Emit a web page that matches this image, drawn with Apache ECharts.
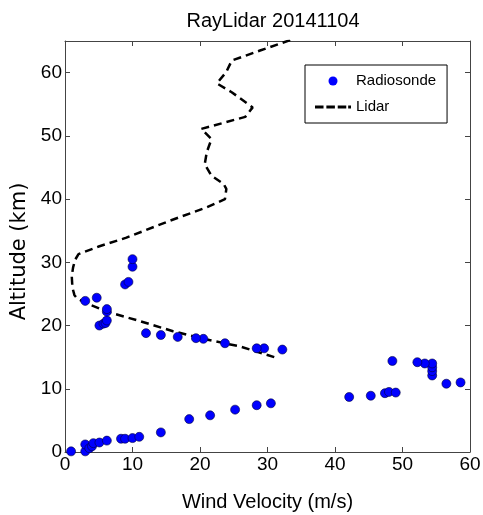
<!DOCTYPE html>
<html>
<head>
<meta charset="utf-8">
<script src="https://cdn.jsdelivr.net/npm/echarts@6/dist/echarts.min.js"></script>
<style>
html,body{margin:0;padding:0;background:#fff;}
#chart{width:483px;height:515px;}
</style>
</head>
<body>
<div id="chart"></div>
<script>
// Radiosonde: wind speed (m/s) and altitude (km)
var radiosondeSpeed = [0.9, 3.0, 3.0, 3.6, 4.0, 4.2, 5.1, 6.2, 8.3, 8.9, 10.0, 11.0, 14.2, 18.4, 21.5, 25.2, 28.4, 30.5,
  42.1, 45.3, 47.4, 48.0, 49.0, 58.6, 56.5, 54.4, 54.4, 54.4, 54.4, 53.3, 52.2, 48.5,
  32.2, 29.5, 28.4, 23.7, 20.5, 19.4, 16.7, 14.2, 12.0, 5.1, 5.7, 6.0, 6.2, 6.2, 6.2, 3.0, 4.7, 8.9, 9.4, 10.0, 10.0];
var radiosondeAlt = [0.1, 0.1, 1.2, 0.6, 0.9, 1.4, 1.5, 1.8, 2.1, 2.1, 2.2, 2.4, 3.1, 5.2, 5.8, 6.7, 7.4, 7.7,
  8.7, 8.9, 9.3, 9.5, 9.4, 11.0, 10.8, 12.1, 12.8, 13.4, 14.0, 14.0, 14.2, 14.4,
  16.2, 16.4, 16.4, 17.2, 17.9, 18.0, 18.2, 18.5, 18.8, 20.0, 20.3, 20.4, 20.8, 22.2, 22.6, 23.9, 24.4, 26.5, 26.9, 29.3, 30.5];
// Lidar profile: wind speed (m/s) and altitude (km)
var lidarSpeed = [31.0, 25.9, 21.0, 16.0, 11.1, 6.2, 3.0, 1.8, 1.4, 1.1, 1.0, 1.2, 1.5, 2.0, 5.0, 9.1, 15.6, 21.0, 23.7, 23.9, 23.5, 21.7, 20.7, 21.0, 21.7, 20.2, 26.7, 27.8, 24.7, 22.5, 23.9, 24.7, 28.9, 33.8];
var lidarAlt = [15.0, 16.7, 17.8, 19.1, 20.7, 22.2, 23.6, 24.3, 24.8, 26.0, 27.8, 29.2, 30.4, 31.3, 32.5, 33.9, 36.6, 38.7, 40.0, 41.6, 42.4, 43.7, 45.5, 47.4, 49.5, 51.1, 53.0, 54.5, 56.9, 58.3, 60.1, 61.9, 63.5, 65.3];

var titleText = 'RayLidar 20141104';
var xName = 'Wind Velocity (m/s)';
var yName = 'Altitude (km)';
var seriesNames = ['Radiosonde', 'Lidar'];

function pairs(xs, ys) { return xs.map(function (v, i) { return [v, ys[i]]; }); }

var axisCol = '#444';
var tickStyle = { show: true, inside: false, length: -5, lineStyle: { color: axisCol, width: 1 } };
var dashIcon = 'path://M0,0h9v3h-9z M12,0h9v3h-9z M24,0h9v3h-9z M35,0h3v3h-3z';
var chart = echarts.init(document.getElementById('chart'));
chart.setOption({
  animation: false,
  backgroundColor: '#fff',
  title: {
    text: titleText, left: 268, top: 6, textAlign: 'center',
    textStyle: { fontFamily: 'Liberation Sans', fontSize: 20, fontWeight: 'normal', color: '#000' }
  },
  grid: { left: 65, right: 13, top: 41, bottom: 63, outerBoundsMode: 'none', containLabel: false },
  legend: {
    orient: 'vertical', left: 305, top: 65,
    data: [{ name: seriesNames[0], icon: 'circle' }, { name: seriesNames[1], icon: dashIcon }],
    itemWidth: 36, itemHeight: 9, itemGap: 8, itemStyle: { borderWidth: 0 },
    symbolKeepAspect: true,
    padding: [7, 11, 7, 10],
    borderColor: '#000', borderWidth: 1, backgroundColor: '#fff',
    textStyle: { fontFamily: 'Liberation Sans', fontSize: 15, color: '#000', lineHeight: 18 }
  },
  xAxis: [{
    type: 'value', min: 0, max: 60, interval: 10, position: 'bottom',
    name: xName, nameLocation: 'middle', nameGap: 40,
    nameTextStyle: { fontFamily: 'Liberation Sans', fontSize: 20, color: '#000' },
    axisLine: { show: true, onZero: false, lineStyle: { color: axisCol, width: 1 } },
    axisTick: tickStyle,
    axisLabel: { margin: 3, fontFamily: 'Liberation Sans', fontSize: 19, color: '#000' },
    splitLine: { show: false }
  }, {
    type: 'value', min: 0, max: 60, interval: 10, position: 'top',
    axisLine: { show: true, onZero: false, lineStyle: { color: axisCol, width: 1 } },
    axisTick: tickStyle,
    axisLabel: { show: false }, splitLine: { show: false }
  }],
  yAxis: [{
    type: 'value', min: 0, max: 65, interval: 10, position: 'left',
    name: yName, nameLocation: 'middle', nameGap: 30,
    nameTextStyle: { fontFamily: 'DejaVu Sans', fontSize: 21, color: '#000', padding: [0, 10, 0, 0] },
    axisLine: { show: true, onZero: false, lineStyle: { color: axisCol, width: 1 } },
    axisTick: tickStyle,
    axisLabel: { margin: 3, fontFamily: 'Liberation Sans', fontSize: 19, color: '#000', showMaxLabel: false },
    splitLine: { show: false }
  }, {
    type: 'value', min: 0, max: 65, interval: 10, position: 'right',
    axisLine: { show: true, onZero: false, lineStyle: { color: axisCol, width: 1 } },
    axisTick: tickStyle,
    axisLabel: { show: false }, splitLine: { show: false }
  }],
  series: [{
    name: seriesNames[0], type: 'scatter', xAxisIndex: 0, yAxisIndex: 0,
    symbol: 'circle', symbolSize: 9,
    itemStyle: { color: '#0000ff', borderColor: '#00003a', borderWidth: 0.6, opacity: 1 },
    data: pairs(radiosondeSpeed, radiosondeAlt), z: 3
  }, {
    name: seriesNames[1], type: 'line', xAxisIndex: 0, yAxisIndex: 0,
    showSymbol: false, symbol: 'none', clip: true,
    lineStyle: { color: '#000', width: 2.5, type: [8, 5] },
    itemStyle: { color: '#000' },
    data: pairs(lidarSpeed, lidarAlt), z: 2
  }]
});
</script>
</body>
</html>
